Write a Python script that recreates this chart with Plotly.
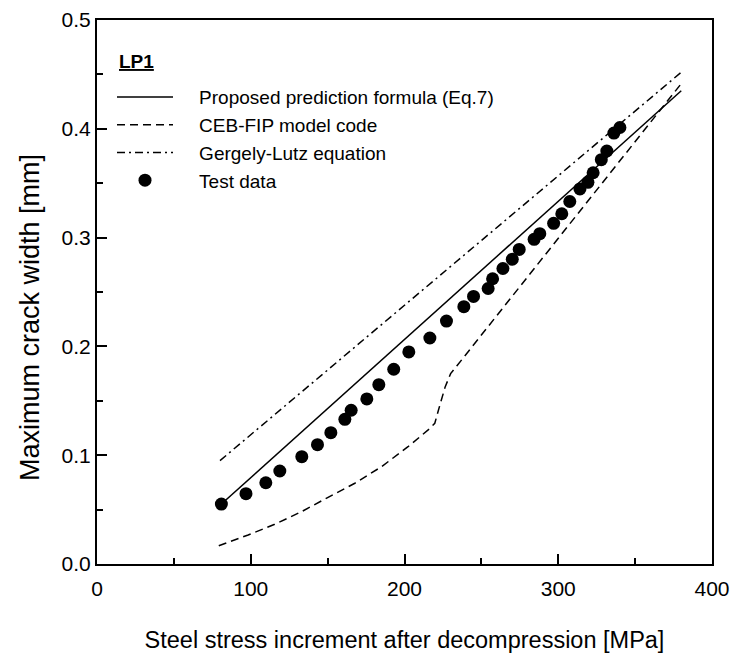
import plotly.graph_objects as go

# Test data (LP1)
test_x = [80.9, 96.9, 109.8, 118.9, 133.2, 143.4, 152.1, 161.2, 165.3, 175.5,
          183.3, 193.0, 202.8, 216.5, 227.3, 238.6, 244.9, 254.4, 257.3, 264.0,
          270.1, 274.6, 284.3, 288.0, 297.0, 302.3, 307.5, 314.1, 319.3, 322.7,
          328.0, 331.6, 336.2, 340.1]
test_y = [0.0551, 0.0646, 0.0747, 0.0855, 0.0986, 0.1097, 0.1207, 0.1330, 0.1413, 0.1517,
          0.1648, 0.1790, 0.1949, 0.2077, 0.2233, 0.2365, 0.2459, 0.2532, 0.2622, 0.2716,
          0.2801, 0.2891, 0.2984, 0.3036, 0.3131, 0.3219, 0.3332, 0.3447, 0.3508, 0.3596,
          0.3716, 0.3796, 0.3961, 0.4012]

# Proposed prediction formula (Eq.7)
prop_x = [80.0, 380.0]
prop_y = [0.054, 0.435]

# CEB-FIP model code
ceb_x = [79.2, 98.3, 115.6, 133.0, 150.3, 167.7, 185.0, 202.3, 216.0, 219.7,
         223.0, 226.5, 230.0, 234.0, 379.7]
ceb_y = [0.0168, 0.0267, 0.0365, 0.0481, 0.0613, 0.0742, 0.0894, 0.1078, 0.1240, 0.1293,
         0.1460, 0.1630, 0.1750, 0.1820, 0.4410]

# Gergely-Lutz equation
gl_x = [80.0, 380.0]
gl_y = [0.095, 0.452]

x_ticks = [0, 100, 200, 300, 400]
y_ticks = [0.0, 0.1, 0.2, 0.3, 0.4, 0.5]

FONT = "Liberation Sans, Arial, sans-serif"
PAD = "\u00a0" * 4

fig = go.Figure()
fig.add_trace(go.Scatter(x=prop_x, y=prop_y, mode="lines",
                         line=dict(color="black", width=1.5),
                         name=PAD + "Proposed prediction formula (Eq.7)"))
fig.add_trace(go.Scatter(x=ceb_x, y=ceb_y, mode="lines",
                         line=dict(color="black", width=1.5, dash="8px,5px"),
                         name=PAD + "CEB-FIP model code"))
fig.add_trace(go.Scatter(x=gl_x, y=gl_y, mode="lines",
                         line=dict(color="black", width=1.5, dash="8px,4px,2px,4px"),
                         name=PAD + "Gergely-Lutz equation"))
fig.add_trace(go.Scatter(x=test_x, y=test_y, mode="markers",
                         marker=dict(color="black", size=13, symbol="circle"),
                         name=PAD + "Test data"))

axis_common = dict(showgrid=False, zeroline=False, showline=True, linecolor="black",
                   linewidth=2, mirror=True, ticks="inside", ticklen=10, tickwidth=1.5,
                   tickcolor="black", automargin=False)

fig.update_xaxes(range=[0, 400], tickvals=x_ticks, ticktext=[str(v) for v in x_ticks],
                 minor=dict(dtick=50, ticks="inside", ticklen=6, tickwidth=1.5, tickcolor="black"),
                 tickfont=dict(family=FONT, size=21, color="black"), ticklabelstandoff=5,
                 title=dict(text="Steel stress increment after decompression [MPa]",
                            font=dict(family=FONT, size=23.5, color="black"), standoff=32),
                 **axis_common)
fig.update_yaxes(range=[0, 0.5], tickvals=y_ticks, ticktext=[f"{v:.1f}" for v in y_ticks],
                 minor=dict(dtick=0.05, ticks="inside", ticklen=6, tickwidth=1.5, tickcolor="black"),
                 tickfont=dict(family=FONT, size=21, color="black"),
                 **axis_common)

# plot area in page pixels: x 97..712, y 20..564 (page has 8px body margin)
fig.update_layout(
    width=738, height=648,
    margin=dict(l=89, r=34, t=12, b=92),
    paper_bgcolor="white", plot_bgcolor="white",
    showlegend=True,
    legend=dict(x=(112 - 97) / 615, y=0.893, xanchor="left", yanchor="top",
                bgcolor="rgba(0,0,0,0)", borderwidth=0,
                font=dict(family=FONT, size=19, color="black"),
                itemwidth=56, tracegroupgap=0),
    annotations=[
        dict(text="<b><u>LP1</u></b>", xref="paper", yref="paper",
             x=(117 - 97) / 615, y=(564 - 62) / 544, xanchor="left", yanchor="middle",
             showarrow=False, font=dict(family=FONT, size=19, color="black")),
        dict(text="Maximum crack width [mm]", xref="paper", yref="paper",
             x=(30 - 97) / 615, y=(564 - 318) / 544, xanchor="center", yanchor="middle",
             textangle=-90, showarrow=False, font=dict(family=FONT, size=27, color="black")),
    ],
)

fig.write_html("out.html")
